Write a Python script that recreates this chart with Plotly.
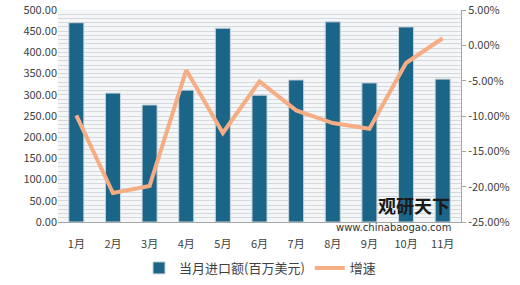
import plotly.graph_objects as go

months = ["1月", "2月", "3月", "4月", "5月", "6月", "7月", "8月", "9月", "10月", "11月"]
import_value = [470, 304, 276, 311, 457, 299, 335, 472, 328, 460, 337]
growth = [-9.9, -20.9, -19.9, -3.5, -12.4, -5.1, -9.2, -11.0, -11.8, -2.5, 1.0]

left_ticks = [0, 50, 100, 150, 200, 250, 300, 350, 400, 450, 500]
right_ticks = [5, 0, -5, -10, -15, -20, -25]

font = "Noto Sans CJK SC"
L, R, T, B = 58, 59, 10, 63
pw, ph = 520 - L - R, 285 - T - B
def px(xp):
    return (xp - L) / pw
def py(yp):
    return (285 - B - yp) / ph

fig = go.Figure()
fig.add_trace(go.Bar(
    x=months, y=import_value, name="当月进口额(百万美元)",
    marker=dict(color="#1b6589", line=dict(color="#c8d3da", width=1)),
    yaxis="y",
))
fig.add_trace(go.Scatter(
    x=months, y=growth, name="增速", mode="lines",
    line=dict(color="#f6ad84", width=4),
    yaxis="y2",
))

fig.add_annotation(x=px(414), y=py(205), xref="paper", yref="paper",
                   text="<b>观研天下</b>", showarrow=False,
                   font=dict(family=font, size=18, color="#1a1a1a"), xanchor="center", yanchor="middle")
fig.add_annotation(x=px(393), y=py(227), xref="paper", yref="paper", text="www.chinabaogao.com",
                   showarrow=False, font=dict(family="DejaVu Sans", size=10, color="#333333"),
                   xanchor="center", yanchor="middle")

fig.update_layout(
    width=520, height=285,
    margin=dict(l=L, r=R, t=T, b=B, autoexpand=False),
    paper_bgcolor="white",
    plot_bgcolor="#f4f6f8",
    font=dict(family=font, size=11, color="#404040"),
    bargap=0.59,
    showlegend=True,
    legend=dict(orientation="h", x=0.5, xanchor="center", xref="container",
                y=17 / 285, yanchor="middle", yref="container",
                font=dict(size=13, color="#404040"), bgcolor="rgba(255,255,255,0)"),
    xaxis=dict(showgrid=False, showline=True, linecolor="#a6a6a6", linewidth=1,
               ticks="outside", ticklen=12, tickcolor="rgba(0,0,0,0)", tickfont=dict(size=11)),
    yaxis=dict(range=[0, 500], tickvals=left_ticks, ticktext=[f"{v:.2f}" for v in left_ticks],
               showgrid=True, gridcolor="#d4d9de", gridwidth=1,
               minor=dict(dtick=10, showgrid=True, gridcolor="#d4d9de", gridwidth=1),
               showline=False, zeroline=False, tickfont=dict(size=11)),
    yaxis2=dict(range=[-25, 5], overlaying="y", side="right",
                tickvals=right_ticks, ticktext=[f"{v:.2f}%" for v in right_ticks],
                showgrid=False, zeroline=False, showline=True, linecolor="#a6a6a6",
                ticks="outside", ticklen=4, tickcolor="#a6a6a6", tickfont=dict(size=11)),
)

fig.write_html("out.html")
